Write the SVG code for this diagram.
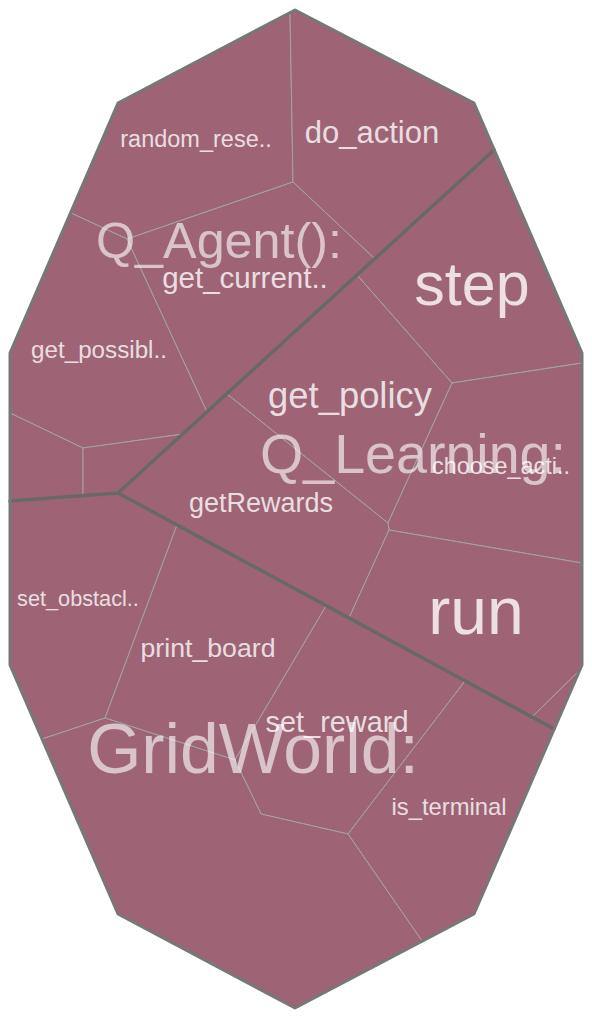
<svg xmlns="http://www.w3.org/2000/svg" width="592" height="1020" viewBox="0 0 592 1020">
<style>
.cell{fill:#9e6476;stroke:#a3a3a3;stroke-width:1}
.lbl{font-family:"Liberation Sans",Arial,sans-serif;fill:#ffffff;fill-opacity:0.8;text-anchor:middle}
.glbl{font-family:"Liberation Sans",Arial,sans-serif;fill:#ffffff;fill-opacity:0.62;text-anchor:middle}
.gb{fill:none;stroke:#686868;stroke-width:3.5;stroke-linecap:round;stroke-linejoin:round}
.outer{fill:none;stroke:#777777;stroke-width:3;stroke-linejoin:round}
</style>
<rect width="592" height="1020" fill="#ffffff"/>
<g id="random_reset">
<polygon class="cell" points="118,103 290,13 293,182 127,239 71,213"/>
<text class="lbl" x="196" y="147" font-size="23.5">random_rese..</text>
</g>
<g id="do_action">
<polygon class="cell" points="290,13 295,10 474,103 494,150 375,259 293,182"/>
<text class="lbl" x="372" y="143" font-size="31">do_action</text>
</g>
<g id="get_current">
<polygon class="cell" points="293,182 375,259 207,412 127,239"/>
<text class="lbl" x="245" y="288" font-size="29.5">get_current..</text>
</g>
<g id="get_possible">
<polygon class="cell" points="71,213 127,239 207,412 183,434 83,448 10,413 10,353"/>
<text class="lbl" x="99" y="358" font-size="24.2">get_possibl..</text>
</g>
<g id="cell_left_a">
<polygon class="cell" points="10,413 83,448 83,496 10,501"/>
</g>
<g id="cell_left_b">
<polygon class="cell" points="83,448 183,434 118,493 83,496"/>
</g>
<g id="step">
<polygon class="cell" points="494,150 582,353 582,363 452,383 357,275"/>
<text class="lbl" x="472" y="305" font-size="61">step</text>
</g>
<g id="get_policy">
<polygon class="cell" points="357,275 452,383 388,523 227,394"/>
<text class="lbl" x="350" y="408" font-size="36.4">get_policy</text>
</g>
<g id="choose_action">
<polygon class="cell" points="452,383 582,363 582,563 389,530 388,523"/>
</g>
<g id="getRewards">
<polygon class="cell" points="227,394 388,523 389,530 349,618 118,493"/>
<text class="lbl" x="261" y="512" font-size="27">getRewards</text>
</g>
<g id="run">
<polygon class="cell" points="389,530 582,563 582,665 580,670 532,717 349,618"/>
<text class="lbl" x="476" y="634" font-size="66">run</text>
</g>
<g id="cell_right_small">
<polygon class="cell" points="532,717 580,670 554,729"/>
</g>
<g id="set_obstacle">
<polygon class="cell" points="10,501 118,493 177,525 105,718 42,739 10,665"/>
<text class="lbl" x="78" y="606" font-size="21.7">set_obstacl..</text>
</g>
<g id="print_board">
<polygon class="cell" points="177,525 326,606 235,760 105,718"/>
<text class="lbl" x="208" y="657" font-size="26.7">print_board</text>
</g>
<g id="set_reward">
<polygon class="cell" points="326,606 465,681 348,834 261,814 235,760"/>
</g>
<g id="is_terminal">
<polygon class="cell" points="465,681 554,729 474,914 422,941 348,834"/>
<text class="lbl" x="449" y="815" font-size="23.8">is_terminal</text>
</g>
<g id="cell_bottom">
<polygon class="cell" points="105,718 235,760 261,814 348,834 422,941 295,1008 118,914 42,739"/>
</g>
<g id="connectors">
<polyline class="gb" points="494,150 118,493 554,729"/>
<polyline class="gb" points="10,501 118,493"/>
<polygon class="outer" points="295,10 474,103 582,353 582,665 474,914 295,1008 118,914 10,665 10,353 118,103"/>
</g>
<g id="group_labels">
<text class="glbl" x="219" y="258" font-size="50.3">Q_Agent():</text>
<text class="glbl" x="413" y="473" font-size="55.6">Q_Learning:</text>
<text class="glbl" x="253" y="773" font-size="69.7">GridWorld:</text>
</g>
<g id="overlay_labels">
<text class="lbl" x="501" y="474" font-size="23.4">choose_acti..</text>
<text class="lbl" x="337" y="732" font-size="28.9">set_reward</text>
</g>
</svg>
